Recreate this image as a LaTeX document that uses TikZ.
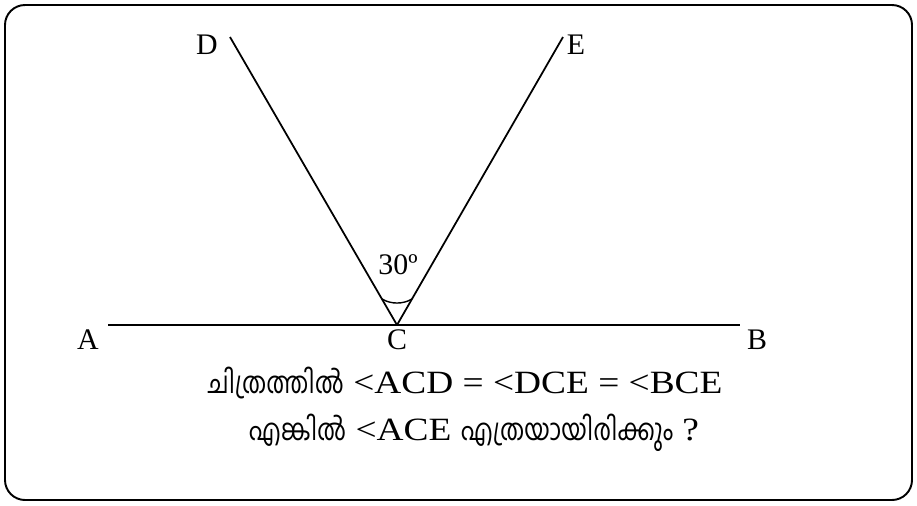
\documentclass[tikz,border=0pt]{standalone}
\usepackage{fontspec}
\setmainfont{Liberation Serif}
\newfontfamily\malfont[Script=Malayalam, FakeStretch=0.8]{Hind Kochi}
\newfontfamily\qfont[FakeStretch=1.15]{Liberation Serif}
\usetikzlibrary{positioning, calc}

\begin{document}
\begin{tikzpicture}[x=0.02cm, y=-0.02cm,
    ptlabel/.style={font=\fontsize{17}{20}\selectfont, inner sep=0pt},
    qtext/.style={font=\qfont\fontsize{18.5}{22}\selectfont, inner sep=0pt}]
  \useasboundingbox (0,0) rectangle (917,505);
  \draw[line width=1.1pt, rounded corners=0.4cm] (5,5) rectangle (912,500);
  % points of the figure
  \coordinate (C) at (397,325);
  \coordinate (A0) at (108,325);
  \coordinate (B0) at (740,325);
  \coordinate (D0) at (230,37);
  \coordinate (E0) at (563,37);
  \draw[line width=1.2pt] (A0) -- (B0);
  \draw[line width=1pt] (C) -- (D0);
  \draw[line width=1pt] (C) -- (E0);
  % angle mark
  \draw[line width=0.8pt] ($(C)+(240:30)$) arc[start angle=240, end angle=300, radius=0.6cm];
  \node[ptlabel] (lA) at (88,340) {A};
  \node[ptlabel] (lB) at (757,340) {B};
  \node[ptlabel] (lC) at (397,340) {C};
  \node[ptlabel] (lD) at (207,45) {D};
  \node[ptlabel] (lE) at (576,45) {E};
  \node[ptlabel] (ang) at (398,265) {30º};
  % question
  \node[qtext] (q1) at (465,383) {{\malfont\fontsize{17}{20}\selectfont ചിത്രത്തിൽ} <ACD = <DCE = <BCE};
  \node[qtext] (q2) at (474,433) {{\malfont\fontsize{17}{20}\selectfont എങ്കിൽ} <ACE {\malfont\fontsize{17}{20}\selectfont എത്രയായിരിക്കും} ?};
\end{tikzpicture}
\end{document}
